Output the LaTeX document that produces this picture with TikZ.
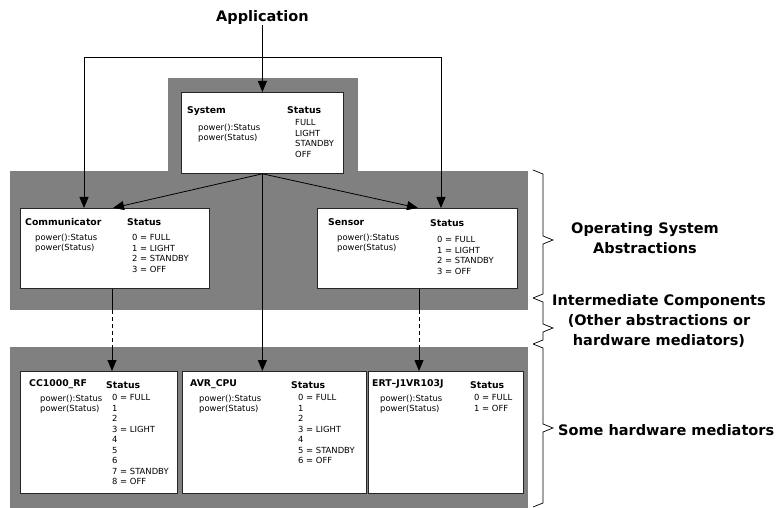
\documentclass[tikz,border=0pt]{standalone}
\usepackage{fontspec}
\setmainfont{DejaVu Sans}
\usetikzlibrary{positioning,arrows.meta}

\begin{document}
\begin{tikzpicture}[x=1pt,y=-1pt,
    tier/.style={fill=black!50,draw=none,anchor=north west,inner sep=0pt},
    unit/.style={draw=black!85,line width=0.8pt,fill=white,anchor=north west,inner sep=0pt},
    title/.style={font=\bfseries\fontsize{9.3}{11}\selectfont,anchor=north west,inner sep=0pt},
    txt/.style={font=\fontsize{8.4}{10.5}\selectfont,anchor=north west,align=left,inner sep=0pt},
    side/.style={font=\bfseries\fontsize{14.5}{20}\selectfont,align=center,inner sep=0pt},
    arr/.style={-{Triangle[width=9pt,length=11pt]},line width=0.8pt},
    node distance=10pt]
  \useasboundingbox (0,0) rectangle (777,508);

  % grey layers
  \node[tier, minimum width=190pt, minimum height=95pt]  (top) at (168,78)  {};
  \node[tier, minimum width=518pt, minimum height=139pt] (os)  at (10,171)  {};
  \node[tier, minimum width=518pt, minimum height=161pt] (hw)  at (10,347)  {};

  % system
  \node[unit, minimum width=162pt, minimum height=81pt] (sys) at (181,92) {};
  \node[title] (systitle) at ([shift={(6,14)}]sys.north west)    {System};
  \node[txt]   (sysfun)   at ([shift={(17,31.5)}]sys.north west) {power():Status\\power(Status)};
  \node[title] (sysstat)  at ([shift={(106,14)}]sys.north west)  {Status};
  \node[txt]   (sysval)   at ([shift={(114,27.5)}]sys.north west) {FULL\\LIGHT\\STANDBY\\OFF};

  % operating system abstractions
  \node[unit, minimum width=189pt, minimum height=80pt] (comm) at (20,208) {};
  \node[title] (commtitle) at ([shift={(5,10)}]comm.north west)     {Communicator};
  \node[txt]   (commfun)   at ([shift={(15,25.5)}]comm.north west)  {power():Status\\power(Status)};
  \node[title] (commstat)  at ([shift={(107,10.5)}]comm.north west) {Status};
  \node[txt]   (commval)   at ([shift={(112,26.5)}]comm.north west) {0 = FULL\\1 = LIGHT\\2 = STANDBY\\3 = OFF};

  \node[unit, minimum width=200pt, minimum height=80pt] (sens) at (317,208) {};
  \node[title] (senstitle) at ([shift={(11,10.5)}]sens.north west)  {Sensor};
  \node[txt]   (sensfun)   at ([shift={(20,25.5)}]sens.north west)  {power():Status\\power(Status)};
  \node[title] (sensstat)  at ([shift={(113,11.5)}]sens.north west) {Status};
  \node[txt]   (sensval)   at ([shift={(120,28.5)}]sens.north west) {0 = FULL\\1 = LIGHT\\2 = STANDBY\\3 = OFF};

  % hardware mediators
  \node[unit, minimum width=157pt, minimum height=122pt] (cc) at (20,371) {};
  \node[title] (cctitle) at ([shift={(9,8.5)}]cc.north west)   {CC1000\_RF};
  \node[txt]   (ccfun)   at ([shift={(20,23.5)}]cc.north west) {power():Status\\power(Status)};
  \node[title] (ccstat)  at ([shift={(86,10.5)}]cc.north west) {Status};
  \node[txt]   (ccval)   at ([shift={(92,23.5)}]cc.north west) {0 = FULL\\1\\2\\3 = LIGHT\\4\\5\\6\\7 = STANDBY\\8 = OFF};

  \node[unit, minimum width=184pt, minimum height=122pt] (avr) at (182,371) {};
  \node[title] (avrtitle) at ([shift={(8,8.5)}]avr.north west)    {AVR\_CPU};
  \node[txt]   (avrfun)   at ([shift={(17,23.5)}]avr.north west)  {power():Status\\power(Status)};
  \node[title] (avrstat)  at ([shift={(109,10.5)}]avr.north west) {Status};
  \node[txt]   (avrval)   at ([shift={(116,23.5)}]avr.north west) {0 = FULL\\1\\2\\3 = LIGHT\\4\\5 = STANDBY\\6 = OFF};

  \node[unit, minimum width=155pt, minimum height=122pt] (ert) at (368,371) {};
  \node[title] (erttitle) at ([shift={(4,8.5)}]ert.north west)    {ERT–J1VR103J};
  \node[txt]   (ertfun)   at ([shift={(12,23.5)}]ert.north west)  {power():Status\\power(Status)};
  \node[title] (ertstat)  at ([shift={(102,10.5)}]ert.north west) {Status};
  \node[txt]   (ertval)   at ([shift={(106,23.5)}]ert.north west) {0 = FULL\\1 = OFF};

  % application
  \node[side] (app) [above=67pt of sys] {Application};
  \coordinate (split)   at (262,57);
  \coordinate (commout) at ([xshift=92pt]comm.south west);
  \coordinate (sensout) at ([xshift=102pt]sens.south west);

  \draw[arr] (app.south -| sys.north) -- (sys.north);
  \draw[arr] (split) -| ([xshift=64pt]comm.north west);
  \draw[arr] (split) -| ([xshift=124pt]sens.north west);
  \draw[arr] (sys.south) -- ([xshift=93pt]comm.north west);
  \draw[arr] (sys.south) -- ([xshift=101pt]sens.north west);
  \draw[arr] (sys.south) -- (sys.south |- avr.north);

  % intermediate components
  \foreach \from in {commout,sensout} {
    \draw[line width=0.8pt] (\from) -- (\from |- os.south);
    \draw[line width=0.8pt,dash pattern=on 4pt off 3pt] (\from |- os.south) -- (\from |- hw.north);
    \draw[arr] (\from |- hw.north) -- (\from |- cc.north);
  }

  % braces and their texts
  \foreach \ya/\yt/\yb in {170/240/298,298/328/344,344/428/507}
    \draw[line width=0.7pt] (533,\ya) -- (543,{\ya+4}) -- (543,{\yt-4}) -- (553,\yt)
      -- (543,{\yt+4}) -- (543,{\yb-4}) -- (533,\yb);
  \node[side] (osl) at (645,238) {Operating System\\Abstractions};
  \node[side] (iml) at (659,321) {Intermediate Components\\(Other abstractions or\\hardware mediators)};
  \node[side,anchor=west] (hwl) at (558,430) {Some hardware mediators};
\end{tikzpicture}
\end{document}
